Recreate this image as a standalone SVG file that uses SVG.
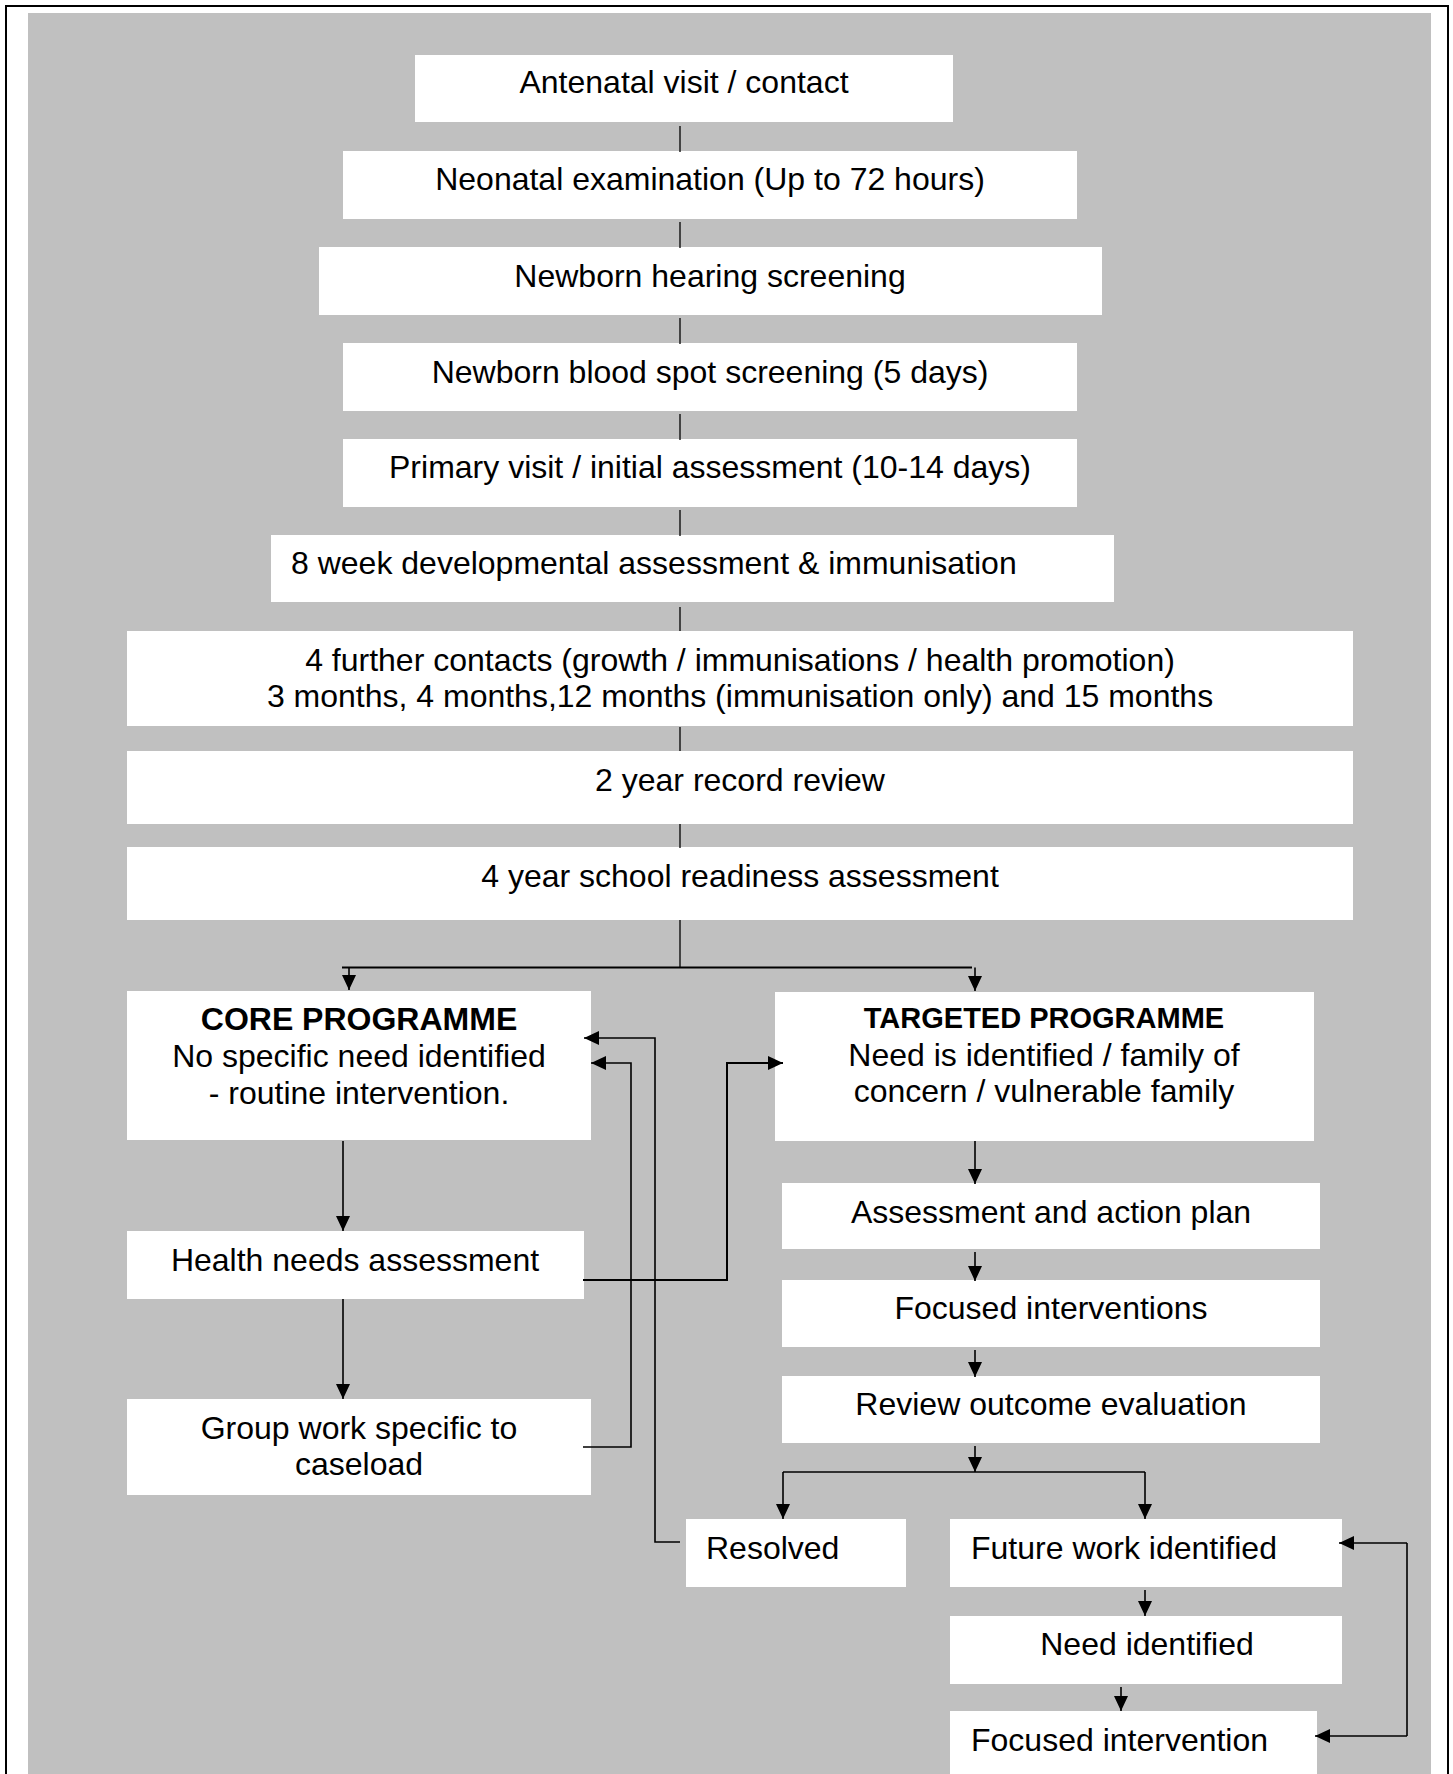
<svg xmlns="http://www.w3.org/2000/svg" width="1453" height="1774" viewBox="0 0 1453 1774">
<style>
.box{fill:#ffffff;stroke:none}
.t{font-family:"Liberation Sans",Arial,Helvetica,sans-serif;font-size:32px;fill:#000000}
.c{text-anchor:middle}
.b{font-weight:bold}
.thin{fill:none;stroke:#000000;stroke-width:1.3}
.ln{fill:none;stroke:#000000;stroke-width:1.6}
.ar{fill:none;stroke:#000000;stroke-width:1.6;marker-end:url(#ah)}
</style>
<defs>
<marker id="ah" markerUnits="userSpaceOnUse" markerWidth="15" markerHeight="14" viewBox="0 0 15 14" refX="15" refY="7" orient="auto">
<path d="M0,0 L15,7 L0,14 z" fill="#000000"/>
</marker>
</defs>
<rect x="6" y="6" width="1442" height="1790" fill="#ffffff" stroke="#000000" stroke-width="2"/>
<rect x="28" y="13" width="1403" height="1780" fill="#c0c0c0"/>

<g id="n-antenatal"><rect class="box" x="415" y="55" width="538" height="67"/><text class="t c" x="684" y="93">Antenatal visit / contact</text></g>
<g id="n-neonatal"><rect class="box" x="343" y="151" width="734" height="68"/><text class="t c" x="710" y="190">Neonatal examination (Up to 72 hours)</text></g>
<g id="n-hearing"><rect class="box" x="319" y="247" width="783" height="68"/><text class="t c" x="710" y="287">Newborn hearing screening</text></g>
<g id="n-bloodspot"><rect class="box" x="343" y="343" width="734" height="68"/><text class="t c" x="710" y="383">Newborn blood spot screening (5 days)</text></g>
<g id="n-primary"><rect class="box" x="343" y="439" width="734" height="68"/><text class="t c" x="710" y="478">Primary visit / initial assessment (10-14 days)</text></g>
<g id="n-8week"><rect class="box" x="271" y="535" width="843" height="67"/><text class="t" x="291" y="574">8 week developmental assessment &amp; immunisation</text></g>
<g id="n-further"><rect class="box" x="127" y="631" width="1226" height="95"/><text class="t c" x="740" y="671">4 further contacts (growth / immunisations / health promotion)</text><text class="t c" x="740" y="707">3 months, 4 months,12 months (immunisation only) and 15 months</text></g>
<g id="n-2year"><rect class="box" x="127" y="751" width="1226" height="73"/><text class="t c" x="740" y="791">2 year record review</text></g>
<g id="n-4year"><rect class="box" x="127" y="847" width="1226" height="73"/><text class="t c" x="740" y="887">4 year school readiness assessment</text></g>
<g id="n-core"><rect class="box" x="127" y="991" width="464" height="149"/><text class="t c b" x="359" y="1030">CORE PROGRAMME</text><text class="t c" x="359" y="1067">No specific need identified</text><text class="t c" x="359" y="1104">- routine intervention.</text></g>
<g id="n-targeted"><rect class="box" x="775" y="992" width="539" height="149"/><text class="t c b" x="1044" y="1028" style="font-size:29px">TARGETED PROGRAMME</text><text class="t c" x="1044" y="1066">Need is identified / family of</text><text class="t c" x="1044" y="1102">concern / vulnerable family</text></g>
<g id="n-healthneeds"><rect class="box" x="127" y="1231" width="457" height="68"/><text class="t c" x="355" y="1271">Health needs assessment</text></g>
<g id="n-groupwork"><rect class="box" x="127" y="1399" width="464" height="96"/><text class="t c" x="359" y="1439">Group work specific to</text><text class="t c" x="359" y="1475">caseload</text></g>
<g id="n-assessment"><rect class="box" x="782" y="1183" width="538" height="66"/><text class="t c" x="1051" y="1223">Assessment and action plan</text></g>
<g id="n-focusedints"><rect class="box" x="782" y="1280" width="538" height="67"/><text class="t c" x="1051" y="1319">Focused interventions</text></g>
<g id="n-review"><rect class="box" x="782" y="1376" width="538" height="67"/><text class="t c" x="1051" y="1415">Review outcome evaluation</text></g>
<g id="n-resolved"><rect class="box" x="686" y="1519" width="220" height="68"/><text class="t" x="706" y="1559">Resolved</text></g>
<g id="n-futurework"><rect class="box" x="950" y="1519" width="392" height="68"/><text class="t" x="971" y="1559">Future work identified</text></g>
<g id="n-needidentified"><rect class="box" x="950" y="1616" width="392" height="68"/><text class="t c" x="1147" y="1655">Need identified</text></g>
<g id="n-focusedint"><rect class="box" x="950" y="1711" width="367" height="80"/><text class="t" x="971" y="1751">Focused intervention</text></g>

<g id="connectors">
<path class="thin" d="M680 126 V152"/>
<path class="thin" d="M680 222 V248"/>
<path class="thin" d="M680 318 V344"/>
<path class="thin" d="M680 414 V440"/>
<path class="thin" d="M680 510 V536"/>
<path class="thin" d="M680 607 V631"/>
<path class="thin" d="M680 727 V751"/>
<path class="thin" d="M680 824 V848"/>
<path class="thin" d="M680 920 V968"/>
<path class="ln" d="M342 967.5 H972" style="stroke-width:2"/>
<path class="ar" d="M349 967.5 V990"/>
<path class="ar" d="M975 967.5 V991"/>
<path class="ar" d="M343 1141 V1231"/>
<path class="ar" d="M343 1299 V1399"/>
<path class="ar" d="M975 1141 V1184"/>
<path class="ar" d="M975 1252 V1281"/>
<path class="ar" d="M975 1350 V1377"/>
<path class="ar" d="M975 1446 V1472"/>
<path class="ln" d="M783 1472 H1145"/>
<path class="ar" d="M783 1472 V1519"/>
<path class="ar" d="M1145 1472 V1519"/>
<path class="ar" d="M1145 1590 V1616"/>
<path class="ar" d="M1121 1687 V1711"/>
<path class="ln" d="M1407 1543 V1736"/>
<path class="ar" d="M1407 1543 H1339"/>
<path class="ar" d="M1407 1736 H1315"/>
<path class="ar" d="M583 1280 H727 V1063 H783" style="stroke-width:2"/>
<path class="ar" d="M583 1447 H631 V1063 H591"/>
<path class="ar" d="M680 1542 H655 V1038 H584"/>
</g>
</svg>
